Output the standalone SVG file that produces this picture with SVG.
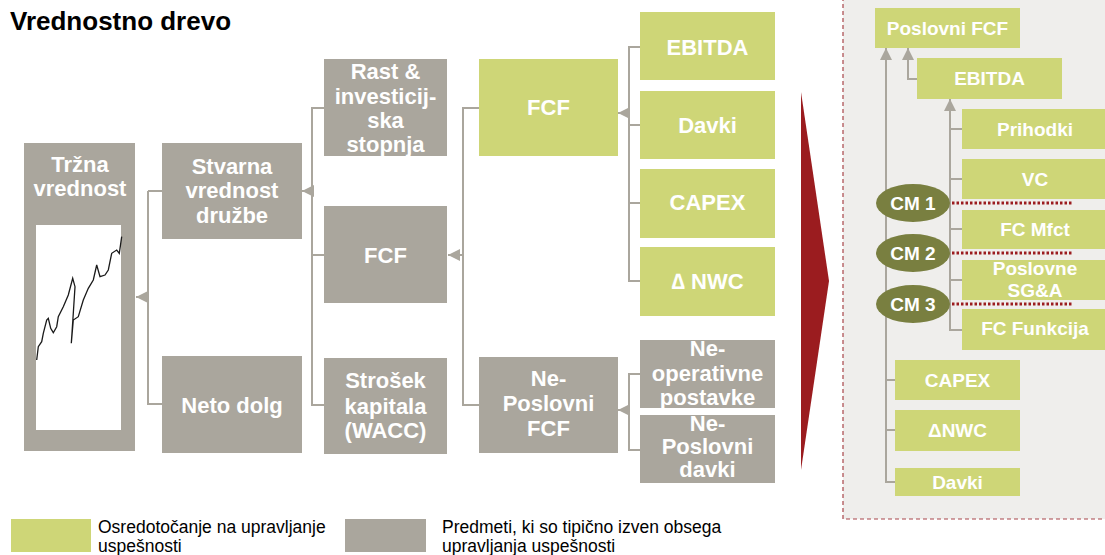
<svg xmlns="http://www.w3.org/2000/svg" width="1105" height="555" viewBox="0 0 1105 555">
<defs>
<style>
.g{fill:#aaa69d}
.y{fill:#ced677}
.t{font-family:"Liberation Sans",Arial,sans-serif;font-weight:bold;fill:#ffffff;text-anchor:middle}
.m{font-size:22px}
.s{font-size:19px}
.c{fill:none;stroke:#aaa69d;stroke-width:2}
.l{font-family:"Liberation Sans",Arial,sans-serif;font-size:17.5px;fill:#000}
.d{stroke:#9b1c1f;stroke-width:3;stroke-dasharray:2.5 2;fill:none}
.e{fill:#797f40}
</style>
<marker id="a" viewBox="0 0 10 10" refX="10" refY="5" markerWidth="12" markerHeight="12" markerUnits="userSpaceOnUse" orient="auto"><path d="M0,0 L10,5 L0,10 Z" fill="#aaa69d"/></marker>
</defs>
<rect width="1105" height="555" fill="#ffffff"/>
<text x="10" y="30" font-family="Liberation Sans,Arial,sans-serif" font-weight="bold" font-size="26" fill="#000">Vrednostno drevo</text>

<!-- right panel background -->
<rect x="843" y="-5" width="270" height="524" fill="#efeeec" stroke="#a8454a" stroke-width="1.2" stroke-dasharray="4 3"/>
<polygon points="801,92 829,281 801,470" fill="#9b1c1f"/>

<g id="connectors">
<path class="c" d="M148,191 H162 M148,191 V404 H162"/>
<path class="c" d="M148,297 H136" marker-end="url(#a)"/>
<path class="c" d="M324,108 H312 V405 H324 M312,255 H324"/>
<path class="c" d="M312,191 H302" marker-end="url(#a)"/>
<path class="c" d="M479,108 H463 V405 H479"/>
<path class="c" d="M463,255 H448" marker-end="url(#a)"/>
<path class="c" d="M640,47 H629 V281 H640 M629,125 H640 M629,203 H640"/>
<path class="c" d="M629,113 H618" marker-end="url(#a)"/>
<path class="c" d="M640,374 H629 V450 H640"/>
<path class="c" d="M629,410 H618" marker-end="url(#a)"/>
<path class="c" d="M895,380 H886 M895,430 H886 M895,482 H886 V48" marker-end="url(#a)"/>
<path class="c" d="M917,79 H908 V48" marker-end="url(#a)"/>
<path class="c" d="M962,129 H950 M962,179 H950 M962,229 H950 M962,280 H950 M962,330 H950 V99" marker-end="url(#a)"/>
<path class="d" d="M952,203 H1072 M952,253 H1072 M952,304 H1072"/>
</g>

<g id="trzna-vrednost">
<rect class="g" x="24" y="143" width="111" height="308"/>
<rect x="36" y="225" width="85" height="205" fill="#ffffff"/>
<polyline fill="none" stroke="#1a1a1a" stroke-width="1.3" points="36.7,360 38.3,346.7 41.7,341.7 43.3,333.3 46.7,320 48.3,318.3 50.7,328.3 53.3,332.7 56.7,326.7 58.3,316.7 63.3,306.7 68.3,295 72.7,278.3 75,286.7 73.3,313.3 71.3,343.3 73.3,320 78.3,316.7 83.3,300 88.3,288.3 93.3,280 96.7,265 100,276.7 105,275 108.3,270 111.7,253.3 116.7,250 119.3,253.3 121.7,236.7"/>
<text class="t m" x="80" y="172">Tržna</text>
<text class="t m" x="80" y="196">vrednost</text>
</g>
<g id="stvarna-vrednost">
<rect class="g" x="162" y="143" width="140" height="96"/>
<text class="t m" x="232" y="174">Stvarna</text>
<text class="t m" x="232" y="198">vrednost</text>
<text class="t m" x="232" y="223">družbe</text>
</g>
<g id="neto-dolg">
<rect class="g" x="162" y="356" width="140" height="97"/>
<text class="t m" x="232" y="413">Neto dolg</text>
</g>
<g id="rast">
<rect class="g" x="324" y="59" width="123" height="97"/>
<text class="t m" x="385.5" y="79">Rast &amp;</text>
<text class="t m" x="385.5" y="104">investicij-</text>
<text class="t m" x="385.5" y="128">ska</text>
<text class="t m" x="385.5" y="152">stopnja</text>
</g>
<g id="fcf-gray">
<rect class="g" x="324" y="206" width="123" height="97"/>
<text class="t m" x="385.5" y="263">FCF</text>
</g>
<g id="strosek">
<rect class="g" x="324" y="358" width="123" height="96"/>
<text class="t m" x="385.5" y="388">Strošek</text>
<text class="t m" x="385.5" y="414">kapitala</text>
<text class="t m" x="385.5" y="438">(WACC)</text>
</g>
<g id="fcf-green">
<rect class="y" x="479" y="59" width="139" height="97"/>
<text class="t m" x="548.5" y="115">FCF</text>
</g>
<g id="ne-poslovni-fcf">
<rect class="g" x="479" y="357" width="139" height="96"/>
<text class="t m" x="548.5" y="386">Ne-</text>
<text class="t m" x="548.5" y="411">Poslovni</text>
<text class="t m" x="548.5" y="436">FCF</text>
</g>
<g id="ebitda">
<rect class="y" x="640" y="12" width="135" height="68"/>
<text class="t m" x="707.5" y="55">EBITDA</text>
</g>
<g id="davki">
<rect class="y" x="640" y="91" width="135" height="68"/>
<text class="t m" x="707.5" y="133">Davki</text>
</g>
<g id="capex">
<rect class="y" x="640" y="169" width="135" height="69"/>
<text class="t m" x="707.5" y="210">CAPEX</text>
</g>
<g id="nwc">
<rect class="y" x="640" y="247" width="135" height="69"/>
<text class="t m" x="707.5" y="289">∆ NWC</text>
</g>
<g id="ne-operativne">
<rect class="g" x="640" y="340" width="135" height="68"/>
<text class="t m" x="707.5" y="356">Ne-</text>
<text class="t m" x="707.5" y="381">operativne</text>
<text class="t m" x="707.5" y="405">postavke</text>
</g>
<g id="ne-poslovni-davki">
<rect class="g" x="640" y="415" width="135" height="68"/>
<text class="t m" x="707.5" y="431">Ne-</text>
<text class="t m" x="707.5" y="454">Poslovni</text>
<text class="t m" x="707.5" y="477">davki</text>
</g>

<g id="r-poslovni-fcf">
<rect class="y" x="875" y="8" width="145" height="40"/>
<text class="t s" x="947.5" y="35">Poslovni FCF</text>
</g>
<g id="r-ebitda">
<rect class="y" x="917" y="58" width="145" height="41"/>
<text class="t s" x="989.5" y="85">EBITDA</text>
</g>
<g id="r-prihodki">
<rect class="y" x="962" y="109" width="146" height="40"/>
<text class="t s" x="1035" y="136">Prihodki</text>
</g>
<g id="r-vc">
<rect class="y" x="962" y="159" width="146" height="40"/>
<text class="t s" x="1035" y="186">VC</text>
</g>
<g id="r-fc-mfct">
<rect class="y" x="962" y="210" width="146" height="39"/>
<text class="t s" x="1035" y="236">FC Mfct</text>
</g>
<g id="r-sga">
<rect class="y" x="962" y="260" width="146" height="40"/>
<text class="t s" x="1035" y="275">Poslovne</text>
<text class="t s" x="1035" y="297">SG&amp;A</text>
</g>
<g id="r-fc-funkcija">
<rect class="y" x="962" y="309" width="146" height="41"/>
<text class="t s" x="1035" y="335">FC Funkcija</text>
</g>
<g id="r-capex">
<rect class="y" x="895" y="360" width="125" height="40"/>
<text class="t s" x="957.5" y="387">CAPEX</text>
</g>
<g id="r-nwc">
<rect class="y" x="895" y="410" width="125" height="41"/>
<text class="t s" x="957.5" y="437">ΔNWC</text>
</g>
<g id="r-davki">
<rect class="y" x="895" y="468" width="125" height="28"/>
<text class="t s" x="957.5" y="489">Davki</text>
</g>
<g id="cm1">
<ellipse class="e" cx="913" cy="203" rx="37" ry="19"/>
<text class="t s" x="913" y="210">CM 1</text>
</g>
<g id="cm2">
<ellipse class="e" cx="913" cy="253" rx="37" ry="19"/>
<text class="t s" x="913" y="260">CM 2</text>
</g>
<g id="cm3">
<ellipse class="e" cx="913" cy="304" rx="37" ry="19"/>
<text class="t s" x="913" y="311">CM 3</text>
</g>

<g id="legend">
<rect class="y" x="11" y="519" width="80" height="33"/>
<text class="l" x="98" y="533">Osredotočanje na upravljanje</text>
<text class="l" x="98" y="552">uspešnosti</text>
<rect class="g" x="345" y="519" width="81" height="33"/>
<text class="l" x="442" y="533">Predmeti, ki so tipično izven obsega</text>
<text class="l" x="442" y="552">upravljanja uspešnosti</text>
</g>
</svg>
